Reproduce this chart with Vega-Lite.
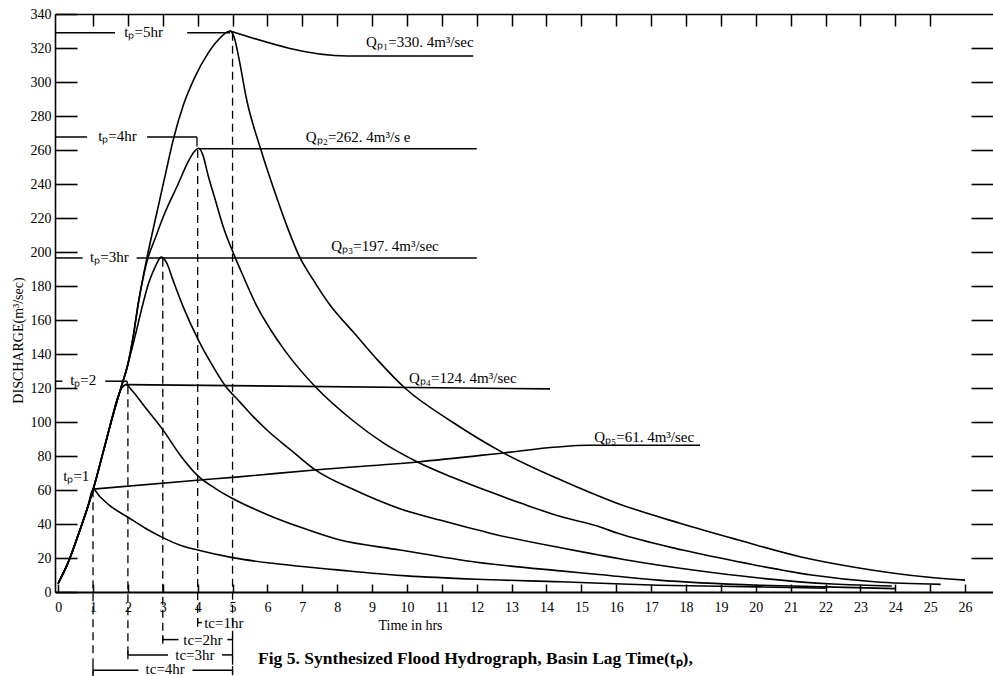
{
  "$schema": "https://vega.github.io/schema/vega-lite/v6.json",
  "width": 938,
  "height": 578,
  "autosize": {"type": "none"},
  "padding": {"left": 55, "top": 14, "right": 0, "bottom": 84},
  "config": {
    "font": "Liberation Serif",
    "view": {"stroke": null},
    "axis": {"grid": false, "domainColor": "black", "tickColor": "black", "labelColor": "black", "titleColor": "black"}
  },
  "title": {
    "text": "Fig 5.  Synthesized Flood Hydrograph, Basin Lag Time(tₚ),",
    "orient": "bottom", "anchor": "start", "frame": "group",
    "dx": 203, "offset": -19, "fontSize": 17.5, "fontWeight": "bold",
    "font": "Liberation Serif", "color": "black", "baseline": "middle"
  },
  "datasets": {
    "curves": [
      {"s": "tp1", "t": 0, "q": 5}, {"s": "tp1", "t": 0.3, "q": 18}, {"s": "tp1", "t": 0.6, "q": 35}, {"s": "tp1", "t": 0.85, "q": 50}, {"s": "tp1", "t": 1.0, "q": 60.5},
      {"s": "tp1", "t": 1.2, "q": 56}, {"s": "tp1", "t": 1.5, "q": 50.5}, {"s": "tp1", "t": 2.0, "q": 44}, {"s": "tp1", "t": 2.5, "q": 37.5}, {"s": "tp1", "t": 3.0, "q": 32},
      {"s": "tp1", "t": 3.5, "q": 27.5}, {"s": "tp1", "t": 4.0, "q": 24.7}, {"s": "tp1", "t": 5.0, "q": 20.2}, {"s": "tp1", "t": 6.0, "q": 17.2}, {"s": "tp1", "t": 7.0, "q": 15},
      {"s": "tp1", "t": 8.0, "q": 13}, {"s": "tp1", "t": 9.0, "q": 11}, {"s": "tp1", "t": 10.0, "q": 9.5}, {"s": "tp1", "t": 12.0, "q": 7.5}, {"s": "tp1", "t": 14.4, "q": 6},
      {"s": "tp1", "t": 17.2, "q": 4}, {"s": "tp1", "t": 20.1, "q": 3}, {"s": "tp1", "t": 22.0, "q": 2.2},

      {"s": "tp2", "t": 0, "q": 5}, {"s": "tp2", "t": 0.3, "q": 18}, {"s": "tp2", "t": 0.6, "q": 35}, {"s": "tp2", "t": 1.0, "q": 60}, {"s": "tp2", "t": 1.3, "q": 83},
      {"s": "tp2", "t": 1.5, "q": 99}, {"s": "tp2", "t": 1.7, "q": 114}, {"s": "tp2", "t": 1.82, "q": 120}, {"s": "tp2", "t": 1.95, "q": 122}, {"s": "tp2", "t": 2.1, "q": 119},
      {"s": "tp2", "t": 2.5, "q": 108.5}, {"s": "tp2", "t": 3.0, "q": 95.5}, {"s": "tp2", "t": 3.5, "q": 80.5}, {"s": "tp2", "t": 4.0, "q": 68.5}, {"s": "tp2", "t": 4.5, "q": 61},
      {"s": "tp2", "t": 5.0, "q": 55}, {"s": "tp2", "t": 6.0, "q": 45.5}, {"s": "tp2", "t": 6.93, "q": 38.2}, {"s": "tp2", "t": 8.0, "q": 31}, {"s": "tp2", "t": 9.8, "q": 24.7},
      {"s": "tp2", "t": 12.0, "q": 17.5}, {"s": "tp2", "t": 14.4, "q": 12.4}, {"s": "tp2", "t": 15.5, "q": 10.3}, {"s": "tp2", "t": 17.2, "q": 7}, {"s": "tp2", "t": 20.1, "q": 4},
      {"s": "tp2", "t": 22.0, "q": 3}, {"s": "tp2", "t": 24.0, "q": 2},

      {"s": "tp3", "t": 0, "q": 5}, {"s": "tp3", "t": 0.3, "q": 18}, {"s": "tp3", "t": 0.6, "q": 35}, {"s": "tp3", "t": 1.0, "q": 60}, {"s": "tp3", "t": 1.3, "q": 83},
      {"s": "tp3", "t": 1.6, "q": 106}, {"s": "tp3", "t": 1.8, "q": 120}, {"s": "tp3", "t": 2.0, "q": 134}, {"s": "tp3", "t": 2.2, "q": 150}, {"s": "tp3", "t": 2.4, "q": 167},
      {"s": "tp3", "t": 2.6, "q": 182}, {"s": "tp3", "t": 2.8, "q": 192}, {"s": "tp3", "t": 2.95, "q": 197}, {"s": "tp3", "t": 3.1, "q": 194}, {"s": "tp3", "t": 3.3, "q": 183},
      {"s": "tp3", "t": 3.58, "q": 168}, {"s": "tp3", "t": 4.0, "q": 149}, {"s": "tp3", "t": 4.4, "q": 134}, {"s": "tp3", "t": 4.8, "q": 121}, {"s": "tp3", "t": 5.2, "q": 112},
      {"s": "tp3", "t": 5.6, "q": 103}, {"s": "tp3", "t": 6.0, "q": 95}, {"s": "tp3", "t": 6.7, "q": 83}, {"s": "tp3", "t": 7.36, "q": 72}, {"s": "tp3", "t": 8.5, "q": 60},
      {"s": "tp3", "t": 9.8, "q": 49}, {"s": "tp3", "t": 11.0, "q": 42}, {"s": "tp3", "t": 12.5, "q": 34}, {"s": "tp3", "t": 14.4, "q": 26}, {"s": "tp3", "t": 15.5, "q": 21.8},
      {"s": "tp3", "t": 16.3, "q": 18.8}, {"s": "tp3", "t": 18.2, "q": 12.9}, {"s": "tp3", "t": 20.1, "q": 8.2}, {"s": "tp3", "t": 22.2, "q": 4.7}, {"s": "tp3", "t": 23.9, "q": 3.5},

      {"s": "tp4", "t": 0, "q": 5}, {"s": "tp4", "t": 0.3, "q": 18}, {"s": "tp4", "t": 0.6, "q": 35}, {"s": "tp4", "t": 1.0, "q": 60}, {"s": "tp4", "t": 1.3, "q": 83},
      {"s": "tp4", "t": 1.6, "q": 106}, {"s": "tp4", "t": 1.8, "q": 120}, {"s": "tp4", "t": 2.0, "q": 134}, {"s": "tp4", "t": 2.15, "q": 150}, {"s": "tp4", "t": 2.3, "q": 170},
      {"s": "tp4", "t": 2.54, "q": 194}, {"s": "tp4", "t": 2.8, "q": 209}, {"s": "tp4", "t": 3.0, "q": 220}, {"s": "tp4", "t": 3.44, "q": 240}, {"s": "tp4", "t": 3.7, "q": 252},
      {"s": "tp4", "t": 3.9, "q": 259}, {"s": "tp4", "t": 4.03, "q": 261}, {"s": "tp4", "t": 4.15, "q": 257}, {"s": "tp4", "t": 4.3, "q": 245}, {"s": "tp4", "t": 4.5, "q": 231},
      {"s": "tp4", "t": 4.73, "q": 215}, {"s": "tp4", "t": 5.05, "q": 198}, {"s": "tp4", "t": 5.3, "q": 186}, {"s": "tp4", "t": 5.7, "q": 168}, {"s": "tp4", "t": 6.1, "q": 154},
      {"s": "tp4", "t": 6.5, "q": 142}, {"s": "tp4", "t": 7.36, "q": 121}, {"s": "tp4", "t": 8.5, "q": 100}, {"s": "tp4", "t": 9.3, "q": 88}, {"s": "tp4", "t": 10.3, "q": 76.5},
      {"s": "tp4", "t": 11.3, "q": 67.5}, {"s": "tp4", "t": 12.3, "q": 59.5}, {"s": "tp4", "t": 13.3, "q": 52}, {"s": "tp4", "t": 14.38, "q": 44.5}, {"s": "tp4", "t": 15.5, "q": 38.5},
      {"s": "tp4", "t": 16.05, "q": 34.5}, {"s": "tp4", "t": 17.9, "q": 24.7}, {"s": "tp4", "t": 19.7, "q": 17}, {"s": "tp4", "t": 21.6, "q": 10}, {"s": "tp4", "t": 23.4, "q": 6},
      {"s": "tp4", "t": 25.3, "q": 4.5},

      {"s": "tp5", "t": 0, "q": 5}, {"s": "tp5", "t": 0.3, "q": 18}, {"s": "tp5", "t": 0.6, "q": 35}, {"s": "tp5", "t": 1.0, "q": 60}, {"s": "tp5", "t": 1.3, "q": 83},
      {"s": "tp5", "t": 1.6, "q": 106}, {"s": "tp5", "t": 1.8, "q": 120}, {"s": "tp5", "t": 2.0, "q": 134}, {"s": "tp5", "t": 2.15, "q": 150}, {"s": "tp5", "t": 2.3, "q": 170},
      {"s": "tp5", "t": 2.54, "q": 196}, {"s": "tp5", "t": 2.85, "q": 225}, {"s": "tp5", "t": 3.1, "q": 248}, {"s": "tp5", "t": 3.3, "q": 266}, {"s": "tp5", "t": 3.6, "q": 287},
      {"s": "tp5", "t": 3.9, "q": 302}, {"s": "tp5", "t": 4.3, "q": 317}, {"s": "tp5", "t": 4.6, "q": 325}, {"s": "tp5", "t": 4.93, "q": 330}, {"s": "tp5", "t": 5.05, "q": 326},
      {"s": "tp5", "t": 5.2, "q": 312}, {"s": "tp5", "t": 5.4, "q": 290}, {"s": "tp5", "t": 5.8, "q": 261}, {"s": "tp5", "t": 6.3, "q": 230}, {"s": "tp5", "t": 6.6, "q": 213},
      {"s": "tp5", "t": 6.9, "q": 198}, {"s": "tp5", "t": 7.3, "q": 184}, {"s": "tp5", "t": 7.75, "q": 170}, {"s": "tp5", "t": 8.5, "q": 152}, {"s": "tp5", "t": 9.2, "q": 135.5},
      {"s": "tp5", "t": 9.94, "q": 120}, {"s": "tp5", "t": 11.3, "q": 100}, {"s": "tp5", "t": 12.75, "q": 82}, {"s": "tp5", "t": 14.4, "q": 66}, {"s": "tp5", "t": 16.0, "q": 52.4},
      {"s": "tp5", "t": 17.8, "q": 40.6}, {"s": "tp5", "t": 19.5, "q": 30.6}, {"s": "tp5", "t": 21.3, "q": 20.6}, {"s": "tp5", "t": 23.0, "q": 14}, {"s": "tp5", "t": 24.9, "q": 8.8},
      {"s": "tp5", "t": 26.0, "q": 7},

      {"s": "Q1", "t": 4.93, "q": 330}, {"s": "Q1", "t": 8.3, "q": 315.3}, {"s": "Q1", "t": 11.9, "q": 315.3},
      {"s": "Q4", "t": 1.95, "q": 122}, {"s": "Q4", "t": 14.1, "q": 119.5},
      {"s": "Q5", "t": 1.0, "q": 60.5}, {"s": "Q5", "t": 4.07, "q": 65.9}, {"s": "Q5", "t": 5.1, "q": 67.6}, {"s": "Q5", "t": 7.36, "q": 71.8}, {"s": "Q5", "t": 10.3, "q": 76.5},
      {"s": "Q5", "t": 12.75, "q": 81.8}, {"s": "Q5", "t": 14.3, "q": 85.3}, {"s": "Q5", "t": 15.2, "q": 86.3}, {"s": "Q5", "t": 18.4, "q": 86.3}
    ],
    "hsegs": [
      {"x1": -0.09, "x2": 1.63, "q": 329}, {"x1": 3.7, "x2": 4.93, "q": 329},
      {"x1": -0.09, "x2": 0.83, "q": 267.6}, {"x1": 2.55, "x2": 3.98, "q": 267.6},
      {"x1": -0.09, "x2": 0.7, "q": 196.5}, {"x1": 2.25, "x2": 12.0, "q": 196.5},
      {"x1": -0.09, "x2": 0.12, "q": 124}, {"x1": 1.35, "x2": 1.98, "q": 124},
      {"x1": 4.03, "x2": 12.0, "q": 260.8},
      {"x1": 4.0, "x2": 4.12, "q": -18},
      {"x1": 3.0, "x2": 3.45, "q": -28}, {"x1": 4.85, "x2": 5.0, "q": -28},
      {"x1": 2.0, "x2": 3.15, "q": -37}, {"x1": 4.7, "x2": 5.0, "q": -37},
      {"x1": 1.0, "x2": 2.3, "q": -46}, {"x1": 3.85, "x2": 5.0, "q": -46}
    ],
    "vsegs": [
      {"t": 3.98, "q1": 267.6, "q2": 262}, {"t": 1.98, "q1": 124, "q2": 121.5},
      {"t": 4.0, "q1": -15.5, "q2": -20.5},
      {"t": 3.0, "q1": -25.5, "q2": -30.5}, {"t": 5.0, "q1": -25.5, "q2": -30.5},
      {"t": 2.0, "q1": -34.5, "q2": -39.5}, {"t": 5.0, "q1": -34.5, "q2": -39.5},
      {"t": 1.0, "q1": -43.5, "q2": -48.5}, {"t": 5.0, "q1": -43.5, "q2": -48.5}
    ],
    "drops": [
      {"t": 1, "q1": 60.5, "q2": -50}, {"t": 2, "q1": 121, "q2": -39}, {"t": 3, "q1": 196, "q2": -29},
      {"t": 4, "q1": 260, "q2": -18}, {"t": 5, "q1": 329, "q2": -49}
    ],
    "labels": [
      {"label": "tₚ=5hr", "t": 2.45, "q": 329.5}, {"label": "tₚ=4hr", "t": 1.7, "q": 268},
      {"label": "tₚ=3hr", "t": 1.47, "q": 197}, {"label": "tₚ=2", "t": 0.72, "q": 124.5},
      {"label": "tₚ=1", "t": 0.52, "q": 68},
      {"label": "Qₚ₁=330. 4m³/sec", "t": 10.37, "q": 323.5}, {"label": "Qₚ₂=262. 4m³/s e", "t": 8.6, "q": 267.5},
      {"label": "Qₚ₃=197. 4m³/sec", "t": 9.37, "q": 203.5}, {"label": "Qₚ₄=124. 4m³/sec", "t": 11.6, "q": 126},
      {"label": "Qₚ₅=61. 4m³/sec", "t": 16.8, "q": 91},
      {"label": "tc=1hr", "t": 4.75, "q": -18}, {"label": "tc=2hr", "t": 4.15, "q": -28},
      {"label": "tc=3hr", "t": 3.92, "q": -37}, {"label": "tc=4hr", "t": 3.07, "q": -45.5}
    ]
  },
  "resolve": {"axis": {"x": "independent", "y": "independent"}},
  "layer": [
    {
      "data": {"name": "curves"},
      "mark": {"type": "line", "color": "black", "strokeWidth": 1.6, "interpolate": "monotone", "clip": false},
      "encoding": {
        "x": {"field": "t", "type": "quantitative",
          "scale": {"domain": [-0.09, 26.8], "nice": false, "zero": false},
          "axis": {"orient": "bottom", "values": [0,1,2,3,4,5,6,7,8,9,10,11,12,13,14,15,16,17,18,19,20,21,22,23,24,25,26],
            "tickSize": -8, "tickWidth": 1.5, "labelPadding": 16, "labelFontSize": 14, "domainWidth": 2,
            "labelFlush": false, "labelOverlap": false,
            "title": "Time in hrs", "titleFontSize": 14, "titleFontWeight": "normal",
            "titleX": 355, "titleY": 33, "titleBaseline": "middle", "titleAlign": "center"}},
        "y": {"field": "q", "type": "quantitative",
          "scale": {"domain": [0, 340], "nice": false, "zero": false},
          "axis": {"orient": "left", "values": [0,20,40,60,80,100,120,140,160,180,200,220,240,260,280,300,320,340],
            "tickSize": -22, "tickWidth": 1.6, "labelPadding": 26, "labelFontSize": 14, "domainWidth": 1.6,
            "labelFlush": false, "labelOverlap": false,
            "title": "DISCHARGE(m³/sec)", "titleFontSize": 14, "titleFontWeight": "normal",
            "titleX": -37, "titleY": 326, "titleBaseline": "middle", "titleAlign": "center", "titleAngle": -90}},
        "detail": {"field": "s"}
      }
    },
    {
      "data": {"name": "hsegs"},
      "mark": {"type": "rule", "color": "black", "strokeWidth": 1.5, "clip": false},
      "encoding": {
        "x": {"field": "x1", "type": "quantitative",
          "scale": {"domain": [-0.09, 26.8], "nice": false, "zero": false},
          "axis": {"orient": "top", "values": [1,2,3,4,5,6,7,8,9,10,11,12,13,14,15,16,17,18,19,20,21,22,23,24,25],
            "tickSize": -12, "tickWidth": 1.5, "labels": false, "domainWidth": 1.6, "title": null}},
        "x2": {"field": "x2"},
        "y": {"field": "q", "type": "quantitative",
          "scale": {"domain": [0, 340], "nice": false, "zero": false},
          "axis": {"orient": "right", "values": [20,40,60,80,100,120,140,160,180,200,220,240,260,280,300,320],
            "tickSize": -22, "tickWidth": 1.6, "labels": false, "domain": false, "title": null}}
      }
    },
    {
      "data": {"name": "vsegs"},
      "mark": {"type": "rule", "color": "black", "strokeWidth": 1.3, "clip": false},
      "encoding": {
        "x": {"field": "t", "type": "quantitative", "axis": null},
        "y": {"field": "q1", "type": "quantitative", "axis": null},
        "y2": {"field": "q2"}
      }
    },
    {
      "data": {"name": "drops"},
      "mark": {"type": "rule", "color": "black", "strokeWidth": 1.3, "strokeDash": [8, 5], "clip": false},
      "encoding": {
        "x": {"field": "t", "type": "quantitative", "axis": null},
        "y": {"field": "q1", "type": "quantitative", "axis": null},
        "y2": {"field": "q2"}
      }
    },
    {
      "data": {"name": "labels"},
      "mark": {"type": "text", "color": "black", "fontSize": 15, "align": "center", "baseline": "middle", "clip": false},
      "encoding": {
        "x": {"field": "t", "type": "quantitative", "axis": null},
        "y": {"field": "q", "type": "quantitative", "axis": null},
        "text": {"field": "label"}
      }
    }
  ]
}
